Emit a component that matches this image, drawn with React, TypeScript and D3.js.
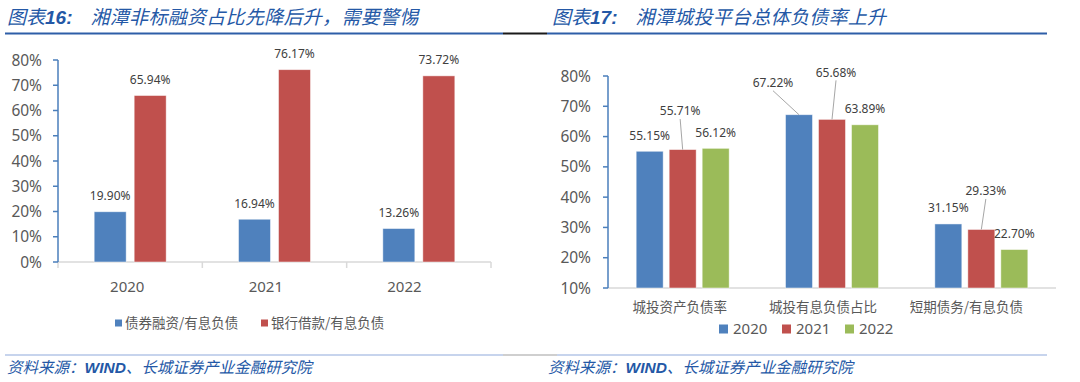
import React from 'react';
import * as d3 from 'd3';

// ---------- data ----------
const leftYears = ['2020', '2021', '2022'];
const leftSeries = ['债券融资/有息负债', '银行借款/有息负债'];
const bondShare = [19.9, 16.94, 13.26];
const bankShare = [65.94, 76.17, 73.72];
const leftTicks = [0, 10, 20, 30, 40, 50, 60, 70, 80];

const rightCats = ['城投资产负债率', '城投有息负债占比', '短期债务/有息负债'];
const rightSeries = ['2020', '2021', '2022'];
const debt2020 = [55.15, 67.22, 31.15];
const debt2021 = [55.71, 65.68, 29.33];
const debt2022 = [56.12, 63.89, 22.7];
const rightTicks = [10, 20, 30, 40, 50, 60, 70, 80];

// ---------- styles ----------
const BLUE = '#4f81bd';
const RED = '#c0504d';
const GREEN = '#9bbb59';
const AXIS_BLUE = '#4a7ebb';
const GRID_GRAY = '#d9d9d9';
const TXT = '#595959';
const LBL = '#404040';
const TITLE = '#2458a6';
const NUM = "'Noto Sans', 'Open Sans', sans-serif";
const CJK = "'Noto Sans CJK SC', 'Noto Sans', sans-serif";
const LAT = "'Liberation Sans', Arial, sans-serif";

// manual data-label nudges (layout only) keyed cat-series, relative to bar top
const rightNudge: Record<string, { dx: number; dy: number }> = {
  '0-1': { dx: -2.5, dy: -38.5 },
  '1-0': { dx: -26, dy: -32 },
  '1-1': { dx: 4, dy: -47 },
  '2-1': { dx: 4.5, dy: -38.5 },
};

const fmt = (v: number) => v.toFixed(2) + '%';

function LeftChart() {
  const x0 = 58, x1 = 491, yT = 60, yB = 262;
  const y = d3.scaleLinear().domain([0, 80]).range([yB, yT]);
  const xc = d3.scaleBand().domain(leftYears).range([x0, x1]).padding(0);
  const groupW = 72;
  const xs = d3.scaleBand().domain(leftSeries).range([0, groupW]).paddingInner(0.2).paddingOuter(0);
  const vals = [bondShare, bankShare];
  const colors = [BLUE, RED];
  const off = (xc.bandwidth() - groupW) / 2;
  const boundaries = [...leftYears.map((c) => xc(c)!), x1];
  return (
    <g>
      <line x1={x0} x2={x1} y1={yB} y2={yB} stroke={GRID_GRAY} strokeWidth={1.5} />
      {boundaries.map((b, i) => (
        <line key={i} x1={b} x2={b} y1={yB} y2={yB + 6} stroke={GRID_GRAY} strokeWidth={1.5} />
      ))}
      <line x1={x0} x2={x0} y1={yT} y2={yB} stroke={AXIS_BLUE} strokeWidth={1.5} />
      {leftTicks.map((t) => (
        <g key={t}>
          <line x1={x0 - 5} x2={x0} y1={y(t)} y2={y(t)} stroke={AXIS_BLUE} strokeWidth={1.5} />
          <text x={42} y={y(t)} dy="0.36em" textAnchor="end" fontFamily={NUM} fontSize={15.5} fill={TXT}>
            {t}%
          </text>
        </g>
      ))}
      {leftYears.map((c, ci) =>
        leftSeries.map((s, si) => {
          const v = vals[si][ci];
          const bx = xc(c)! + off + xs(s)!;
          return (
            <g key={c + s}>
              <rect x={bx} y={y(v)} width={xs.bandwidth()} height={yB - y(v)} fill={colors[si]} stroke="#ffffff" strokeOpacity={0.6} strokeWidth={0.8} />
              <text x={bx + xs.bandwidth() / 2} y={y(v) - 16} dy="0.36em" textAnchor="middle" fontFamily={NUM} fontSize={12} fill={LBL}>
                {fmt(v)}
              </text>
            </g>
          );
        })
      )}
      {leftYears.map((c) => {
        const cx = x0 + (xc(c)! + xc.bandwidth() / 2 - x0) * 0.96;
        return (
          <text key={c} x={cx} y={287} dy="0.36em" textAnchor="middle" fontFamily={NUM} fontSize={15} fill={TXT}>
            {c}
          </text>
        );
      })}
      {leftSeries.map((s, i) => {
        const lx = [115, 261][i];
        return (
          <g key={s}>
            <rect x={lx} y={319.5} width={7} height={7} fill={colors[i]} />
            <text x={lx + 10} y={323} dy="0.36em" fontFamily={CJK} fontSize={13.5} fill={TXT}>
              {s}
            </text>
          </g>
        );
      })}
    </g>
  );
}

function RightChart() {
  const x0 = 608, x1 = 1056, yT = 76, yB = 288;
  const y = d3.scaleLinear().domain([10, 80]).range([yB, yT]);
  const xc = d3.scaleBand().domain(rightCats).range([x0, x1]).padding(0);
  const groupW = 93;
  const xs = d3.scaleBand().domain(rightSeries).range([0, groupW]).paddingInner(0.182).paddingOuter(0);
  const vals = [debt2020, debt2021, debt2022];
  const colors = [BLUE, RED, GREEN];
  const off = (xc.bandwidth() - groupW) / 2;
  return (
    <g>
      <line x1={x0} x2={x1} y1={yB} y2={yB} stroke={GRID_GRAY} strokeWidth={1.5} />
      <line x1={x0} x2={x0} y1={yT} y2={yB} stroke={AXIS_BLUE} strokeWidth={1.5} />
      {rightTicks.map((t) => (
        <g key={t}>
          <line x1={x0 - 5} x2={x0} y1={y(t)} y2={y(t)} stroke={AXIS_BLUE} strokeWidth={1.5} />
          <text x={591} y={y(t)} dy="0.36em" textAnchor="end" fontFamily={NUM} fontSize={15.5} fill={TXT}>
            {t}%
          </text>
        </g>
      ))}
      {rightCats.map((c, ci) =>
        rightSeries.map((s, si) => {
          const v = vals[si][ci];
          const bx = xc(c)! + off + xs(s)!;
          const bcx = bx + xs.bandwidth() / 2;
          const nud = rightNudge[`${ci}-${si}`];
          const n = nud || { dx: 0, dy: -16 };
          const lx = bcx + n.dx;
          const ly = y(v) + n.dy;
          return (
            <g key={c + s}>
              <rect x={bx} y={y(v)} width={xs.bandwidth()} height={yB - y(v)} fill={colors[si]} stroke="#ffffff" strokeOpacity={0.6} strokeWidth={0.8} />
              {nud && <line x1={lx} y1={ly + 8} x2={bcx} y2={y(v)} stroke="#a6a6a6" strokeWidth={1} />}
              <text x={lx} y={ly} dy="0.36em" textAnchor="middle" fontFamily={NUM} fontSize={12} fill={LBL}>
                {fmt(v)}
              </text>
            </g>
          );
        })
      )}
      {rightCats.map((c) => {
        const cx = x0 + (xc(c)! + xc.bandwidth() / 2 - x0) * 0.96;
        return (
          <text key={c} x={cx} y={307} dy="0.36em" textAnchor="middle" fontFamily={CJK} fontSize={13.5} fill={TXT}>
            {c}
          </text>
        );
      })}
      {rightSeries.map((s, i) => {
        const lx = 719 + i * 63;
        return (
          <g key={s}>
            <rect x={lx} y={324.5} width={9} height={9} fill={colors[i]} />
            <text x={lx + 14} y={329} dy="0.36em" fontFamily={NUM} fontSize={15} fill={TXT}>
              {s}
            </text>
          </g>
        );
      })}
    </g>
  );
}

function Title({ x, num, text }: { x: number; num: string; text: string }) {
  return (
    <text x={x} y={17} dy="0.36em" fill={TITLE} fontStyle="italic" fontSize={19}>
      <tspan fontFamily={CJK}>图表</tspan>
      <tspan fontFamily={LAT} fontWeight="bold" fontSize={19}>{num}:</tspan>
      <tspan fontFamily={CJK} dx={18} letterSpacing={0.3}>{text}</tspan>
    </text>
  );
}

function Footer({ x }: { x: number }) {
  return (
    <text x={x} y={367} dy="0.36em" fill={TITLE} fontStyle="italic" fontSize={15.5}>
      <tspan fontFamily={CJK}>资料来源：</tspan>
      <tspan fontFamily={LAT} fontWeight="bold">WIND</tspan>
      <tspan fontFamily={CJK}>、长城证券产业金融研究院</tspan>
    </text>
  );
}

export default function App() {
  return (
    <svg width={1080} height={382} style={{ position: 'absolute', left: 0, top: 0, background: '#ffffff' }}>
      <rect width={1080} height={382} fill="#ffffff" />
      <line x1={5} x2={503} y1={33.5} y2={33.5} stroke="#2e5ea8" strokeWidth={2} />
      <line x1={503} x2={547} y1={33.5} y2={33.5} stroke="#1a1a1a" strokeWidth={2} />
      <line x1={547} x2={1047} y1={33.5} y2={33.5} stroke="#2e5ea8" strokeWidth={2} />
      <line x1={5} x2={503} y1={355} y2={355} stroke="#b4c6e7" strokeWidth={1.5} />
      <line x1={503} x2={557} y1={355} y2={355} stroke="#bfbfbf" strokeWidth={1.5} />
      <line x1={557} x2={1047} y1={355} y2={355} stroke="#b4c6e7" strokeWidth={1.5} />
      <Title x={7} num="16" text="湘潭非标融资占比先降后升，需要警惕" />
      <Title x={552} num="17" text="湘潭城投平台总体负债率上升" />
      <LeftChart />
      <RightChart />
      <Footer x={7} />
      <Footer x={548} />
    </svg>
  );
}
